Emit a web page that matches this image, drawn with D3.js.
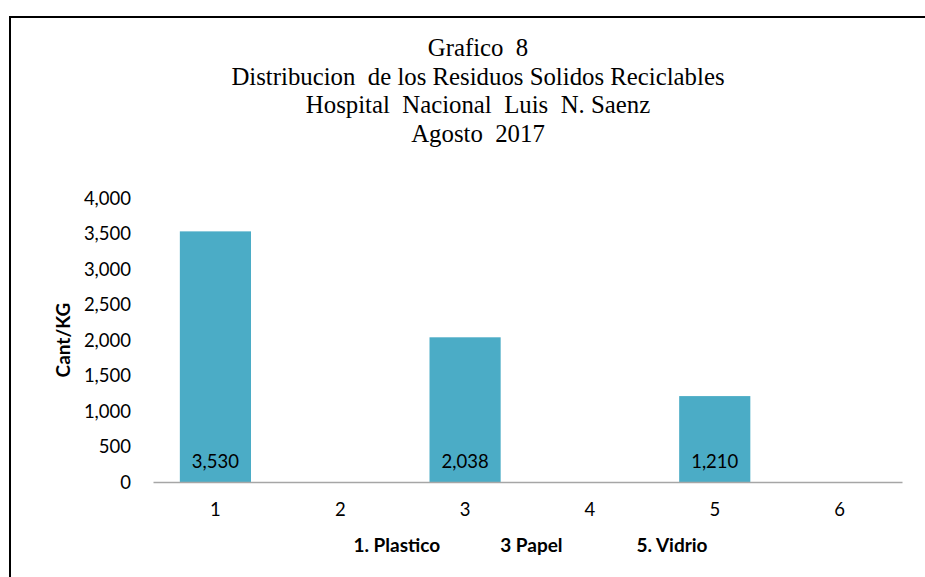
<!DOCTYPE html>
<html>
<head>
<meta charset="utf-8">
<script src="https://cdn.jsdelivr.net/npm/d3@7"></script>
<style>
  body { margin: 0; background: #fff; }
  svg { display: block; }
  .title { font-family: 'Liberation Serif', 'Times New Roman', serif; font-size: 24.8px; fill: #000; }
  .tick text { font-family: Lato, 'Noto Sans', sans-serif; font-size: 18.5px; fill: #000; }
  .lbl { font-family: Lato, 'Noto Sans', sans-serif; font-size: 18.5px; fill: #000; }
  .axis-title { font-family: Lato, 'Noto Sans', sans-serif; font-size: 19px; font-weight: bold; fill: #000; white-space: pre; }
</style>
</head>
<body>
<div id="chart"></div>
<script>
// chart data
const categories = ['1', '2', '3', '4', '5', '6']
const values = [3530, 0, 2038, 0, 1210, 0]
const yTicks = [0, 500, 1000, 1500, 2000, 2500, 3000, 3500, 4000]
const titleLines = [
  'Grafico  8',
  'Distribucion  de los Residuos Solidos Reciclables',
  'Hospital  Nacional  Luis  N. Saenz',
  'Agosto  2017'
]
const xTitle = '1. Plastico             3 Papel                5. Vidrio'
const yTitle = 'Cant/KG'

const width = 925,
  height = 577,
  margin = { top: 198, right: 23, bottom: 95, left: 153 },
  innerW = width - margin.left - margin.right,
  innerH = height - margin.top - margin.bottom

const svg = d3
  .select('#chart')
  .append('svg')
  .attr('width', width)
  .attr('height', height)

// outer frame (left + top edges visible)
svg
  .append('path')
  .attr('d', 'M10,' + height + 'V17H' + width)
  .attr('fill', 'none')
  .attr('stroke', '#000')
  .attr('stroke-width', 2)

// title
svg
  .append('text')
  .attr('class', 'title')
  .attr('text-anchor', 'middle')
  .selectAll('tspan')
  .data(titleLines)
  .enter()
  .append('tspan')
  .attr('x', 478)
  .attr('y', (d, i) => 56 + i * 28.7)
  .style('white-space', 'pre')
  .text(d => d)

const g = svg
  .append('g')
  .attr('transform', 'translate(' + margin.left + ',' + margin.top + ')')

const xScale = d3
  .scaleBand()
  .domain(categories)
  .range([0, innerW])
  .paddingInner(0.43)
  .paddingOuter(0.215)

const xBand = d3.scaleBand().domain(categories).range([0, innerW])

const yScale = d3
  .scaleLinear()
  .domain([0, 4000])
  .range([innerH, 0])

// y axis (labels only)
const yAxis = g
  .append('g')
  .call(
    d3
      .axisLeft(yScale)
      .tickValues(yTicks)
      .tickFormat(d3.format(','))
      .tickSize(0)
      .tickPadding(22)
  )
yAxis.select('.domain').remove()
yAxis.selectAll('text').attr('dy', '0.35em')

// bars
g.selectAll('.bar')
  .data(values)
  .enter()
  .append('rect')
  .attr('class', 'bar')
  .attr('x', (d, i) => xScale(categories[i]))
  .attr('width', xScale.bandwidth())
  .attr('y', d => yScale(d))
  .attr('height', d => innerH - yScale(d))
  .attr('fill', '#4BACC6')

// x axis
const xAxis = g
  .append('g')
  .attr('transform', 'translate(0,' + innerH + ')')
  .call(d3.axisBottom(xBand).tickSize(0).tickPadding(21))
xAxis.select('.domain').attr('stroke', '#a6a6a6').attr('stroke-width', 1.5)

// value labels inside bars
g.selectAll('.lbl')
  .data(values.map((v, i) => ({ v, c: categories[i] })).filter(d => d.v > 0))
  .enter()
  .append('text')
  .attr('class', 'lbl')
  .attr('text-anchor', 'middle')
  .attr('x', d => xBand(d.c) + xBand.bandwidth() / 2)
  .attr('y', innerH - 20)
  .attr('dy', '0.35em')
  .text(d => d3.format(',')(d.v))

// axis titles
g.append('text')
  .attr('class', 'axis-title')
  .attr('text-anchor', 'middle')
  .attr('x', innerW / 2 + 3)
  .attr('y', innerH + 63)
  .attr('dy', '0.35em')
  .text(xTitle)

svg
  .append('text')
  .attr('class', 'axis-title')
  .attr('text-anchor', 'middle')
  .attr('transform', 'translate(63,340) rotate(-90)')
  .attr('dy', '0.35em')
  .text(yTitle)
</script>
</body>
</html>
